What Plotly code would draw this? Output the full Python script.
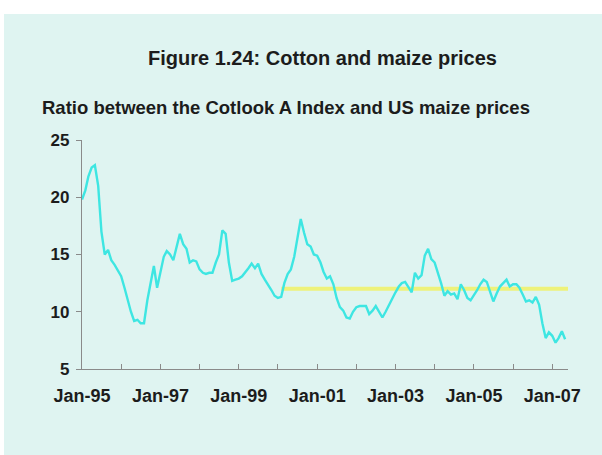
import plotly.graph_objects as go
import pandas as pd

# Monthly ratio, Jan-1995 .. May-2007
start_month = "1995-01-01"
ratio = [
    19.8, 20.6, 21.8, 22.6, 22.8, 21.0, 17.0, 15.0, 15.4, 14.5, 14.1, 13.6,   # 1995
    13.1, 12.1, 11.0, 10.0, 9.2, 9.3, 9.0, 9.0, 11.0, 12.5, 14.0, 12.1,       # 1996
    13.4, 14.8, 15.3, 15.0, 14.5, 15.8, 16.8, 15.9, 15.5, 14.3, 14.5, 14.4,   # 1997
    13.7, 13.4, 13.3, 13.4, 13.4, 14.3, 15.0, 17.1, 16.8, 14.3, 12.7, 12.8,   # 1998
    12.9, 13.1, 13.4, 13.8, 14.2, 13.8, 14.2, 13.3, 12.8, 12.4, 11.9, 11.4,   # 1999
    11.2, 11.3, 12.5, 13.3, 13.7, 14.8, 16.5, 18.1, 16.9, 15.9, 15.7, 15.0,   # 2000
    14.9, 14.3, 13.5, 12.9, 13.1, 12.4, 11.2, 10.4, 10.1, 9.5, 9.4, 10.0,     # 2001
    10.4, 10.5, 10.5, 10.5, 9.8, 10.1, 10.5, 10.0, 9.5, 10.0, 10.6, 11.2,     # 2002
    11.7, 12.2, 12.5, 12.6, 12.2, 11.7, 13.4, 12.9, 13.2, 14.9, 15.5, 14.6,   # 2003
    14.3, 13.4, 12.5, 11.4, 11.8, 11.5, 11.6, 11.1, 12.4, 11.9, 11.2, 11.0,   # 2004
    11.4, 11.9, 12.4, 12.8, 12.6, 11.8, 10.9, 11.6, 12.2, 12.5, 12.8, 12.2,   # 2005
    12.4, 12.4, 12.1, 11.5, 10.9, 11.0, 10.8, 11.3, 10.6, 9.0, 7.7, 8.2,      # 2006
    7.9, 7.3, 7.7, 8.3, 7.6,                                                  # 2007
]
dates = pd.date_range(start_month, periods=len(ratio), freq="MS")

# Reference level (yellow line)
ref_level = 12.0
ref_dates = ["2000-02-01", "2007-05-28"]

x_range = ["1995-01-01", "2007-05-28"]
y_ticks = [5, 10, 15, 20, 25]

title_text = "Figure 1.24: Cotton and maize prices"
subtitle_text = "Ratio between the Cotlook A Index and US maize prices"

W, H = 602, 455
L, R, T, B = 82, 34, 140, 86
pw, ph = W - L - R, H - T - B

def px_x(p):
    return (p - L) / pw

def px_y(p):
    return (H - B - p) / ph

MINT = "#dff4f1"
FONT = "Liberation Sans, Arial, sans-serif"
TXT = "#1c1c1c"
AX = "#8a8a8a"

fig = go.Figure()
fig.add_trace(go.Scatter(
    x=ref_dates, y=[ref_level, ref_level], mode="lines",
    line=dict(color="#eef27a", width=4), hoverinfo="skip", showlegend=False))
fig.add_trace(go.Scatter(
    x=dates, y=ratio, mode="lines",
    line=dict(color="#3ee6e2", width=2.4), showlegend=False))

fig.update_layout(
    width=W, height=H,
    margin=dict(l=L, r=R, t=T, b=B),
    paper_bgcolor="white",
    plot_bgcolor=MINT,
    font=dict(family=FONT, color=TXT),
    shapes=[dict(type="rect", xref="paper", yref="paper",
                 x0=px_x(4), x1=px_x(W + 2), y0=px_y(H + 2), y1=px_y(14),
                 fillcolor=MINT, line=dict(width=0), layer="below")],
    annotations=[
        dict(text="<b>%s</b>" % title_text, xref="paper", yref="paper",
             x=px_x(322), y=px_y(58), xanchor="center", yanchor="middle",
             showarrow=False, font=dict(size=20, family=FONT, color=TXT)),
        dict(text="<b>%s</b>" % subtitle_text, xref="paper", yref="paper",
             x=px_x(40), y=px_y(107), xanchor="left", yanchor="middle",
             showarrow=False, font=dict(size=18.5, family=FONT, color=TXT)),
    ],
)

fig.update_xaxes(
    type="date", range=x_range,
    tick0="1995-01-01", dtick="M12", ticklabelstep=2, tickformat="%b-%y",
    ticks="inside", ticklen=5, tickcolor=AX, tickwidth=1,
    showline=True, linecolor=AX, linewidth=1.2,
    showgrid=False, zeroline=False,
    tickfont=dict(size=18, family=FONT, color=TXT, weight="bold"),
    ticklabelstandoff=10,
)
fig.update_yaxes(
    range=[5, 25], tickvals=y_ticks,
    ticks="outside", ticklen=5, tickcolor=AX, tickwidth=1,
    showline=True, linecolor=AX, linewidth=1.2,
    showgrid=False, zeroline=False,
    tickfont=dict(size=17, family=FONT, color=TXT, weight="bold"),
    ticklabelstandoff=3,
)

fig.write_html("out.html", config={"displayModeBar": False},
               post_script="document.body.style.margin='0';")
